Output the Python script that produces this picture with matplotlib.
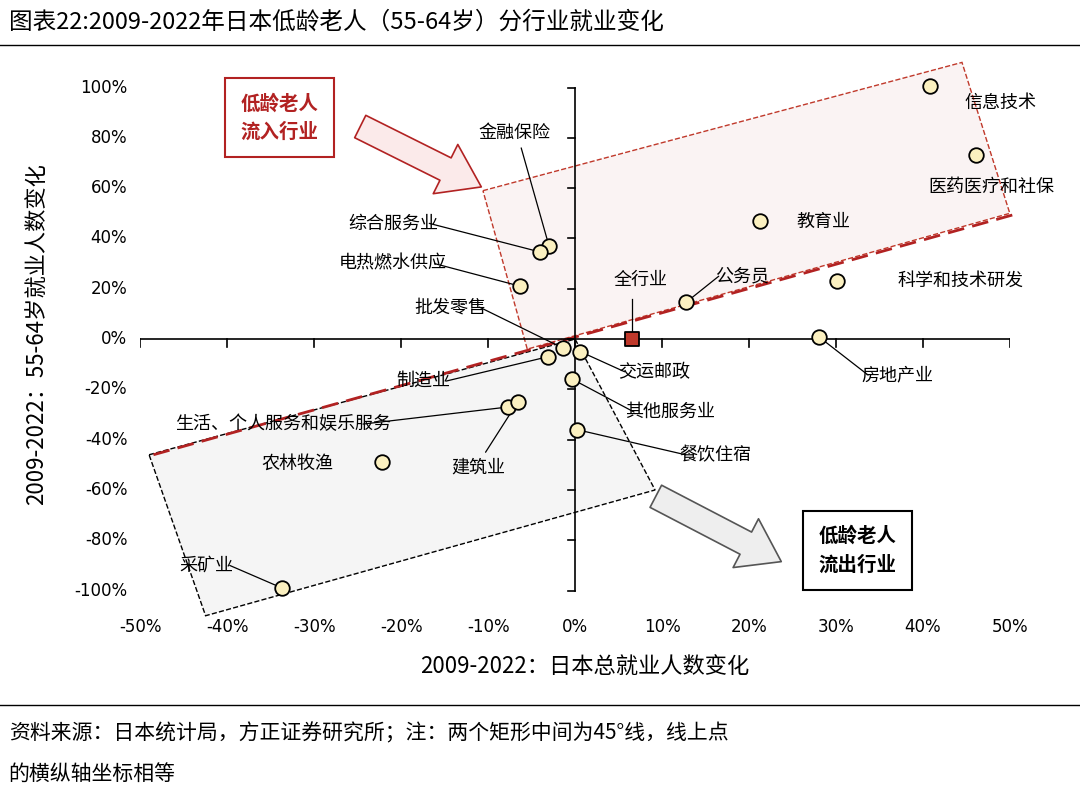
import matplotlib
matplotlib.use("Agg")
import matplotlib.pyplot as plt
from matplotlib.patches import Polygon, FancyArrowPatch

plt.rcParams['font.family'] = ['Noto Sans CJK SC']
plt.rcParams['axes.unicode_minus'] = False

industries = ["信息技术", "医药医疗和社保", "教育业", "科学和技术研发", "公务员", "房地产业",
              "金融保险", "综合服务业", "电热燃水供应", "批发零售", "制造业", "交运邮政",
              "其他服务业", "餐饮住宿", "生活、个人服务和娱乐服务", "建筑业", "农林牧渔", "采矿业"]
total_change = [40.8, 46.1, 21.3, 30.1, 12.8, 28.0, -3.0, -4.0, -6.3, -1.4, -3.1, 0.6,
                -0.3, 0.2, -7.7, -6.6, -22.2, -33.7]
senior_change = [100.6, 73.0, 47.0, 23.0, 14.7, 1.0, 37.0, 34.6, 21.0, -3.6, -7.0, -5.0,
                 -16.0, -36.0, -27.0, -25.0, -49.0, -99.0]
all_x, all_y = 6.6, 0.0
label_pos = [(48.9, 94), (47.9, 60.4), (28.5, 46.5), (44.3, 23), (19.2, 25), (37.1, -14.3),
             (-7.0, 82), (-20.9, 46), (-21.0, 30), (-14.4, 12.7), (-17.5, -16.7), (9.1, -13),
             (10.9, -29), (16.1, -46), (-33.6, -33.8), (-11.1, -51), (-32.0, -49.7), (-42.4, -90)]
leader = [False, False, False, False, True, True, True, True, True, True, True, True,
          True, True, True, True, False, True]
x_ticks = [-50, -40, -30, -20, -10, 0, 10, 20, 30, 40, 50]
y_ticks = [-100, -80, -60, -40, -20, 0, 20, 40, 60, 80, 100]

fig = plt.figure(figsize=(10.8, 7.95), dpi=100)
ax = fig.add_axes([0.130, 0.2255, 0.805, 0.696])
ax.set_xlim(-50, 50)
ax.set_ylim(-110, 110)
for s in ['top', 'right', 'left', 'bottom']:
    ax.spines[s].set_visible(False)
ax.set_xticks([]); ax.set_yticks([])
ax.axhline(0, color='black', lw=1.2, zorder=2)
ax.plot([0, 0], [-100, 100], color='black', lw=1.2, zorder=2)
for t in x_ticks:
    ax.plot([t, t], [0, -3], color='black', lw=1.2, zorder=2)
    ax.text(t, -111, f"{t}%", ha='center', va='top', fontsize=12, family='DejaVu Sans')
for t in y_ticks:
    ax.plot([0, -0.8], [t, t], color='black', lw=1.2, zorder=2)
    ax.text(-51.5, t, f"{t}%", ha='right', va='center', fontsize=12, family='DejaVu Sans')

# rectangles
up = Polygon([(-10.6, 59), (44.5, 110), (50, 50), (-5.5, -4)], closed=True,
             facecolor='#faf3f3', edgecolor='#c0392b', ls='--', lw=1, zorder=0, clip_on=False)
low = Polygon([(-49, -46), (0, 0), (9.2, -60), (-42.5, -110)], closed=True,
              facecolor='#f5f5f5', edgecolor='black', ls='--', lw=1, zorder=0, clip_on=False)
ax.add_patch(up); ax.add_patch(low)
ax.plot([-48.5, 51], [-46, 50], color='#b22222', ls=(0, (6, 3)), lw=2, zorder=1, clip_on=False)

# arrows
ax.add_patch(FancyArrowPatch((-25, 85), (-10.5, 60), arrowstyle='simple,head_width=2.2,head_length=1.6,tail_width=1',
                             mutation_scale=18, facecolor='#fbeaea', edgecolor='#b22222', lw=1.2, zorder=3))
ax.add_patch(FancyArrowPatch((9, -62), (24, -89), arrowstyle='simple,head_width=2.2,head_length=1.6,tail_width=1',
                             mutation_scale=18, facecolor='#eeeeee', edgecolor='#555555', lw=1.2, zorder=3))

# boxes
ax.text(-34, 88, "低龄老人\n流入行业", ha='center', va='center', fontsize=14, color='#b22222',
        fontweight='bold', linespacing=1.6,
        bbox=dict(boxstyle='square,pad=0.8', facecolor='white', edgecolor='#b22222', lw=1.5))
ax.text(32.5, -84, "低龄老人\n流出行业", ha='center', va='center', fontsize=14, color='black',
        fontweight='bold', linespacing=1.6,
        bbox=dict(boxstyle='square,pad=0.8', facecolor='white', edgecolor='black', lw=1.5))

ax.scatter(total_change, senior_change, s=110, facecolor='#fbf0c0', edgecolor='black', lw=1.3, zorder=5, clip_on=False)
ax.scatter([all_x], [all_y], s=110, marker='s', facecolor='#c0392b', edgecolor='black', lw=1.3, zorder=5)
ax.plot([all_x, all_x], [0, 16], color='black', lw=0.9, zorder=4)
ax.text(7.5, 23.5, "全行业", ha='center', va='center', fontsize=13)

for name, x, y, (lx, ly), ld in zip(industries, total_change, senior_change, label_pos, leader):
    ax.text(lx, ly, name, ha='center', va='center', fontsize=13, zorder=6)
    if ld:
        w = len(name) * 1.45
        ex = lx - w / 2 - 0.5 if lx > x else lx + w / 2 + 0.5
        if name in ("金融保险", "建筑业"):
            ex, ey = lx + 0.8, ly - 6 if name == "金融保险" else ly + 6
        else:
            ey = ly
        ax.annotate("", xy=(x, y), xytext=(ex, ey),
                    arrowprops=dict(arrowstyle='-', color='black', lw=0.9, shrinkA=0, shrinkB=5), zorder=4)

fig.text(0.5415, 0.160, "2009-2022：日本总就业人数变化", ha='center', va='center', fontsize=16)
fig.text(0.035, 0.58, "2009-2022：55-64岁就业人数变化", ha='center', va='center', fontsize=16, rotation=90)
fig.text(0.008, 0.972, "图表22:2009-2022年日本低龄老人（55-64岁）分行业就业变化", ha='left', va='center', fontsize=17)
fig.add_artist(plt.Line2D([0, 1], [0.944, 0.944], color='black', lw=1))
fig.add_artist(plt.Line2D([0, 1], [0.113, 0.113], color='black', lw=1))
fig.text(0.008, 0.077, "资料来源：日本统计局，方正证券研究所；注：两个矩形中间为45°线，线上点", ha='left', va='center',
         fontsize=15, style='italic')
fig.text(0.008, 0.025, "的横纵轴坐标相等", ha='left', va='center', fontsize=15, style='italic')
fig.savefig("out.png", dpi=100)
